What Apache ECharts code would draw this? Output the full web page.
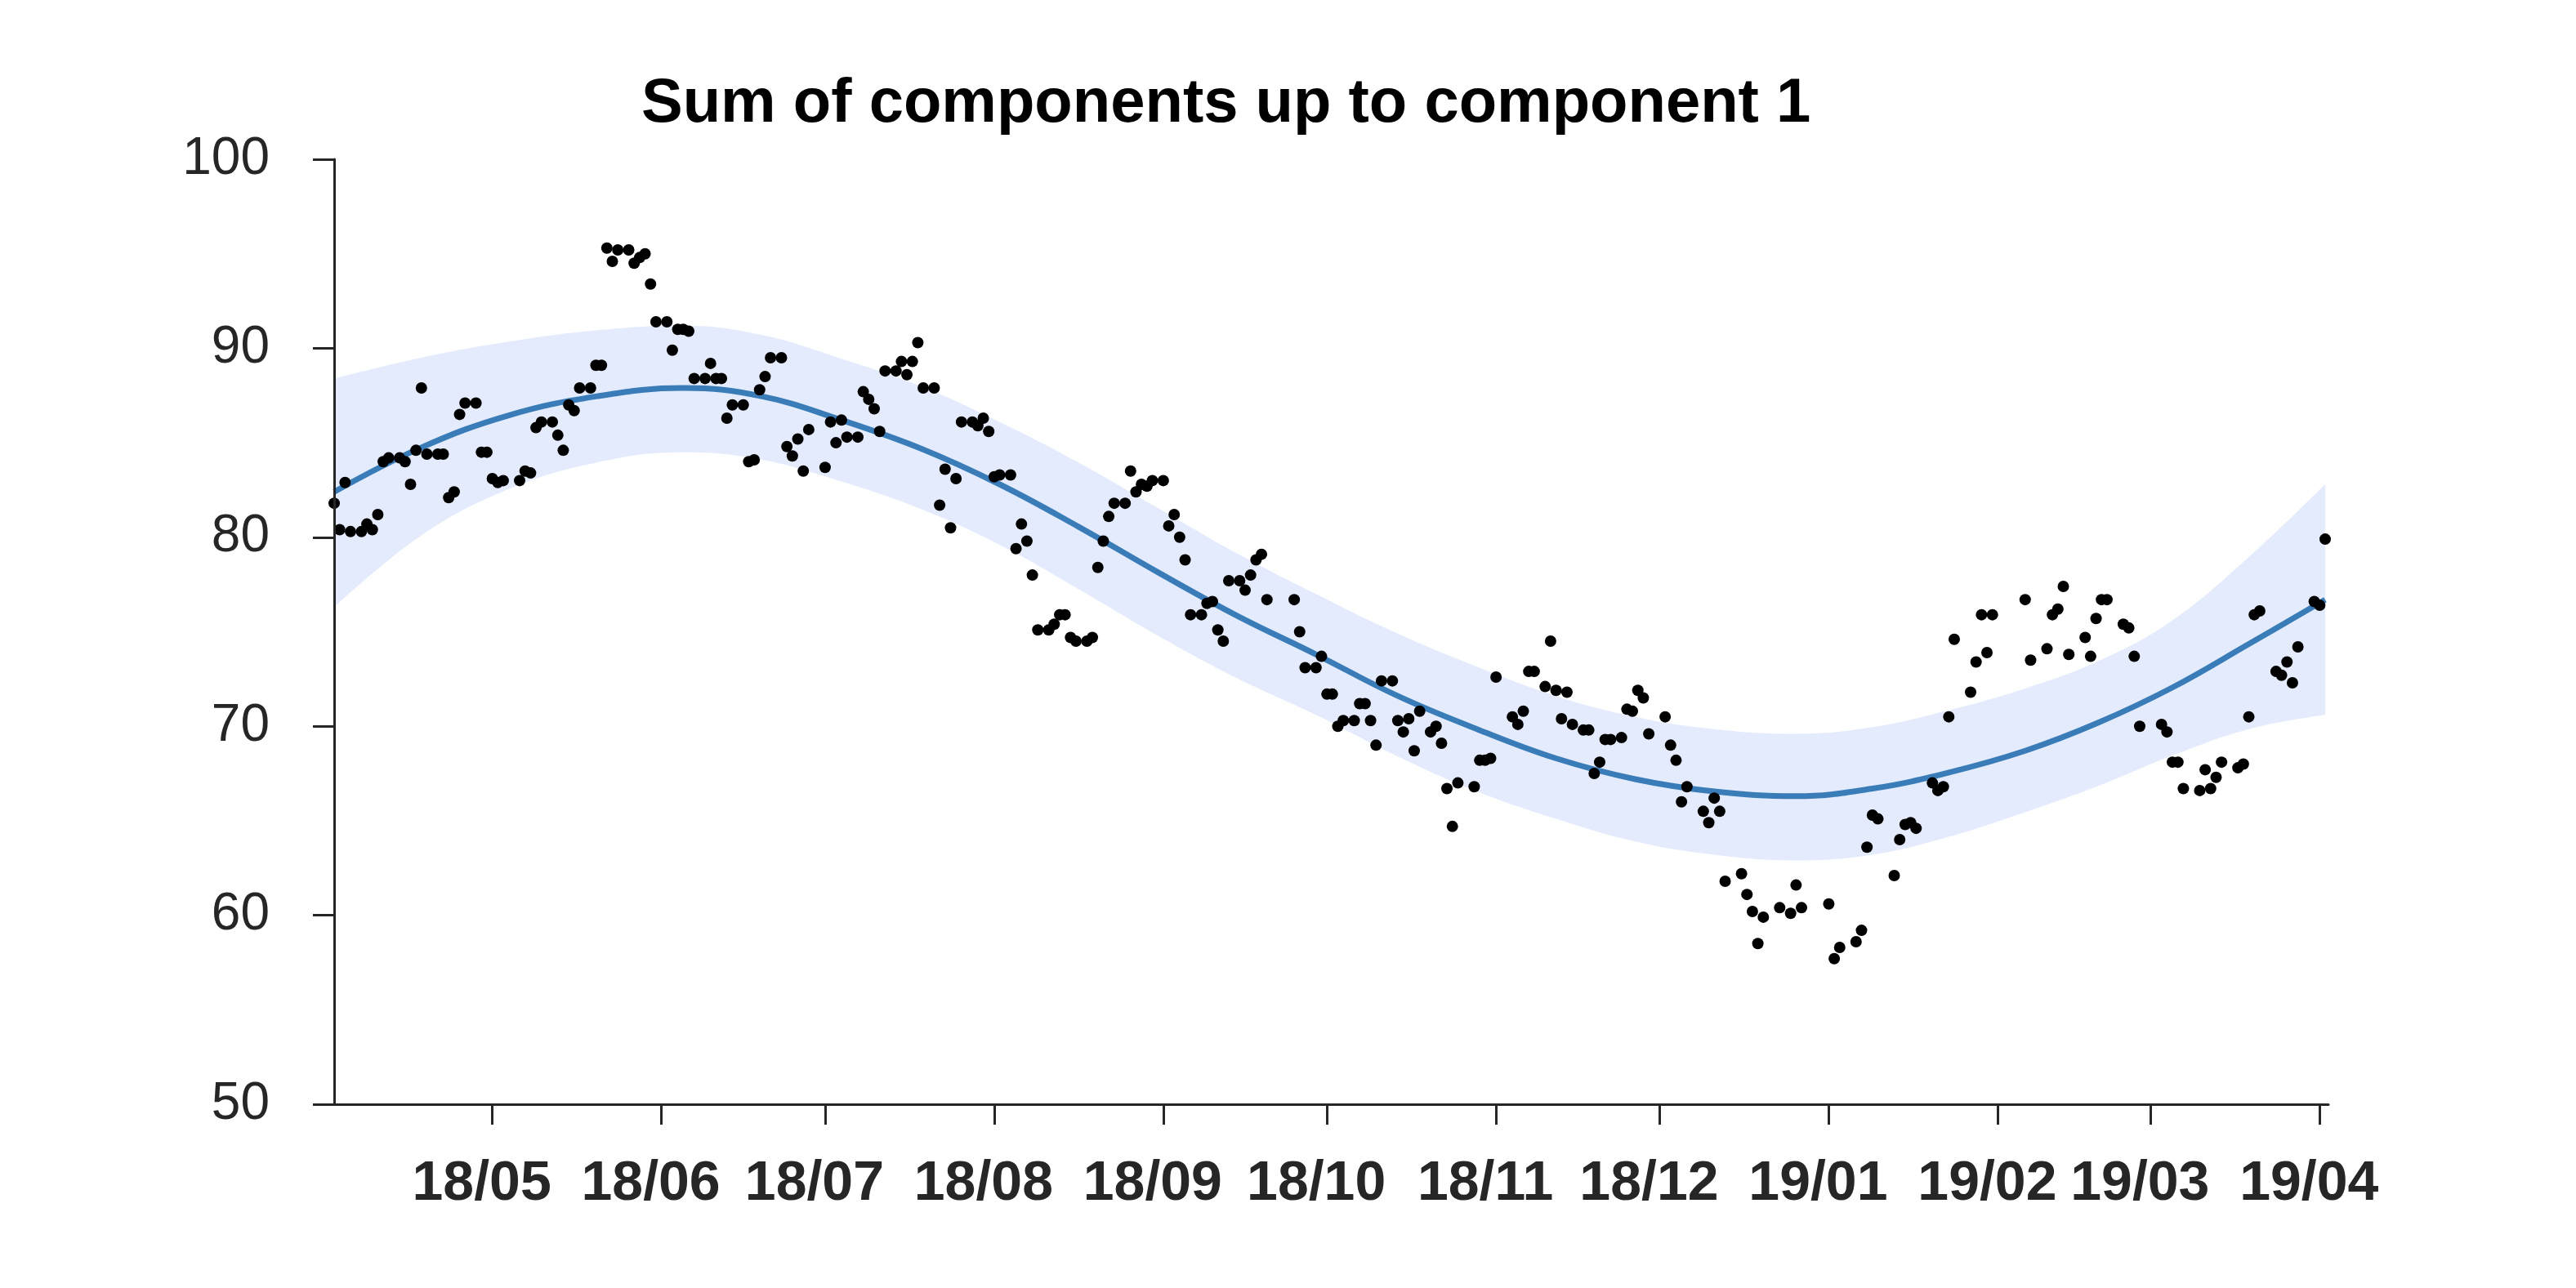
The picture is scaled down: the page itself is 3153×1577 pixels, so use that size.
<!DOCTYPE html>
<html><head><meta charset="utf-8">
<script src="https://cdn.jsdelivr.net/npm/echarts@6/dist/echarts.min.js"></script>
<style>html,body{margin:0;padding:0;background:#fff}#c{width:3153px;height:1577px}</style>
</head><body><div id="c"></div>
<script>
// Observations: day offset from 2018-04-02 and observed value
const obsDays = [0,1,2,3,5,6,7,8,9,10,12,13,14,15,16,17,19,20,21,22,23,24,26,27,28,29,30,31,34,35,36,37,38,40,41,42,43,44,45,47,48,49,50,51,52,54,55,56,57,58,59,
61,62,63,64,65,66,68,69,70,71,72,73,75,76,77,78,79,80,82,83,84,85,86,87,90,91,92,93,94,96,97,98,99,100,101,103,104,105,106,107,108,110,111,112,113,114,115,117,118,119,120,121,122,
124,125,126,127,128,129,131,132,133,134,135,136,138,139,140,141,142,143,145,146,147,148,149,150,152,153,154,155,156,157,159,160,161,162,163,164,166,167,168,169,170,171,176,177,178,180,181,182,183,
184,185,187,188,189,190,191,192,194,195,196,197,198,199,201,202,203,204,205,206,209,210,211,212,213,216,217,218,219,220,222,223,224,225,226,227,229,230,231,232,233,234,236,237,238,239,240,241,244,
245,246,247,248,251,252,253,254,255,258,259,260,261,262,265,267,268,269,274,275,276,279,280,281,282,283,286,287,288,289,290,293,294,295,296,297,300,301,302,303,304,
310,311,314,315,316,317,318,321,322,323,324,325,328,329,330,331,335,336,337,338,339,342,343,344,345,346,349,350,351,352,353,356,357,358,359,360,363,364,365];
const obsValues = [81.8,80.4,82.9,80.3,80.3,80.7,80.4,81.2,84.0,84.2,84.2,84.0,82.8,84.6,87.9,84.4,84.4,84.4,82.1,82.4,86.5,87.1,87.1,84.5,84.5,83.1,82.9,83.0,83.0,83.5,83.4,85.8,86.1,86.1,85.4,84.6,87.0,86.7,87.9,87.9,89.1,89.1,95.3,94.6,95.2,95.2,94.5,94.8,95.0,93.4,91.4,
91.4,89.9,91.0,91.0,90.9,88.4,88.4,89.2,88.4,88.4,86.3,87.0,87.0,84.0,84.1,87.8,88.5,89.5,89.5,84.8,84.3,85.2,83.5,85.7,83.7,86.1,85.0,86.2,85.3,85.3,87.7,87.3,86.8,85.6,88.8,88.8,89.3,88.6,89.3,90.3,87.9,87.9,81.7,83.6,80.5,83.1,86.1,86.1,85.9,86.3,85.6,83.2,83.3,
83.3,79.4,80.7,79.8,78.0,75.1,75.1,75.4,75.9,75.9,74.7,74.5,74.5,74.7,78.4,79.8,81.1,81.8,81.8,83.5,82.4,82.8,82.7,83.0,83.0,80.6,81.2,80.0,78.8,75.9,75.9,76.5,76.6,75.1,74.5,77.7,77.7,77.2,78.0,78.8,79.1,76.7,76.7,75.0,73.1,73.1,73.7,71.7,71.7,
70.0,70.3,70.3,71.2,71.2,70.3,69.0,72.4,72.4,70.3,69.7,70.4,68.7,70.8,69.7,70.0,69.1,66.7,64.7,67.0,66.8,68.2,68.2,68.3,72.6,70.5,70.1,70.8,72.9,72.9,72.1,74.5,71.9,70.4,71.8,70.1,69.8,69.8,67.5,68.1,69.3,69.3,69.4,70.9,70.8,71.9,71.5,69.6,70.5,
69.0,68.2,66.0,66.8,65.5,64.9,66.2,65.5,61.8,62.2,61.1,60.2,58.5,59.9,60.4,60.1,61.6,60.4,60.6,57.7,58.3,58.6,59.2,63.6,65.3,65.1,62.1,64.0,64.8,64.9,64.6,67.0,66.6,66.8,70.5,74.6,71.8,73.4,75.9,73.9,75.9,
76.7,73.5,74.1,75.9,76.2,77.4,73.8,74.7,73.7,75.7,76.7,76.7,75.4,75.2,73.7,70.0,70.1,69.7,68.1,68.1,66.7,66.6,67.7,66.7,67.3,68.1,67.8,68.0,70.5,75.9,76.1,72.9,72.7,73.4,72.3,74.2,76.6,76.4,79.9];

// Fitted component and its band (read at these day offsets)
const curveDays   = [0,16,32,48,64,78.5,93,107.5,122,136.5,151,165.5,180,195,209.5,224,238.5,253,268,282,296,310,323.5,337,351,365];
const fitValues   = [82.4,84.75,86.45,87.45,87.9,87.45,86.2,84.7,82.8,80.55,78.15,75.85,73.8,71.6,69.85,68.3,67.2,66.55,66.3,66.7,67.55,68.7,70.2,72.05,74.35,76.7];
const upperValues = [88.4,89.5,90.35,90.95,91.2,90.7,89.45,88.0,86.1,83.95,81.55,79.15,77.0,74.9,73.15,71.6,70.5,69.85,69.6,69.95,70.85,72.0,73.45,75.6,78.95,82.8];
const lowerValues = [76.3,80.1,82.55,83.95,84.5,84.1,82.95,81.5,79.6,77.25,74.8,72.55,70.6,68.4,66.55,65.1,63.9,63.2,62.9,63.2,64.15,65.45,66.85,68.45,69.85,70.6];

const tickMonths = [[2018,5],[2018,6],[2018,7],[2018,8],[2018,9],[2018,10],[2018,11],[2018,12],[2019,1],[2019,2],[2019,3],[2019,4]];
const titleText = 'Sum of components up to component 1';

const DAY = 86400000;
const t0 = new Date(2018, 3, 2).getTime();
const ts = d => t0 + d * DAY;
const tickVals = tickMonths.map(([y, m]) => new Date(y, m - 1, 1).getTime());
const fmt = v => { const d = new Date(v); return String(d.getFullYear() % 100).padStart(2, '0') + '/' + String(d.getMonth() + 1).padStart(2, '0'); };

const axisColor = '#262626';
const chart = echarts.init(document.getElementById('c'), null, {renderer: 'canvas'});
chart.setOption({
  animation: false,
  backgroundColor: '#fff',
  title: {
    text: titleText, left: 785, top: 90, padding: 0,
    textStyle: {fontFamily: 'Liberation Sans', fontWeight: 'bold', fontSize: 76, lineHeight: 76, color: '#000'}
  },
  grid: {left: 409, right: 303, top: 195, bottom: 225, containLabel: false},
  xAxis: {
    type: 'value', min: ts(0), max: ts(365) + 0.6 * DAY, z: 10,
    axisLine: {show: true, lineStyle: {color: axisColor, width: 3}},
    axisTick: {show: true, length: 25, lineStyle: {color: axisColor, width: 3}, customValues: tickVals},
    axisLabel: {customValues: tickVals, formatter: fmt, margin: 64, padding: [0, 26, 0, 0],
      fontFamily: 'Liberation Sans', fontWeight: 'bold', fontSize: 68, lineHeight: 68, color: axisColor},
    splitLine: {show: false}
  },
  yAxis: {
    type: 'value', min: 50, max: 100, interval: 10, z: 10,
    axisLine: {show: true, lineStyle: {color: axisColor, width: 3}},
    axisTick: {show: true, length: 26, lineStyle: {color: axisColor, width: 3}},
    axisLabel: {margin: 79, fontFamily: 'Liberation Sans', fontSize: 64, color: axisColor},
    splitLine: {show: false}
  },
  series: [
    {type: 'line', name: 'upper', smooth: 0.4, showSymbol: false, silent: true, z: 1,
     lineStyle: {opacity: 0}, areaStyle: {color: '#e3ebfc', opacity: 1, origin: 'start'},
     data: curveDays.map((d, i) => [ts(d), upperValues[i]])},
    {type: 'line', name: 'lower', smooth: 0.4, showSymbol: false, silent: true, z: 2,
     lineStyle: {opacity: 0}, areaStyle: {color: '#ffffff', opacity: 1, origin: 'start'},
     data: curveDays.map((d, i) => [ts(d), lowerValues[i]])},
    {type: 'line', name: 'fit', smooth: 0.4, showSymbol: false, z: 3,
     lineStyle: {color: '#3a7cb8', width: 7}, data: curveDays.map((d, i) => [ts(d), fitValues[i]])},
    {type: 'scatter', name: 'obs', symbolSize: 14, z: 5, itemStyle: {color: '#000', opacity: 1},
     data: obsDays.map((d, i) => [ts(d), obsValues[i]])}
  ]
});
</script></body></html>
